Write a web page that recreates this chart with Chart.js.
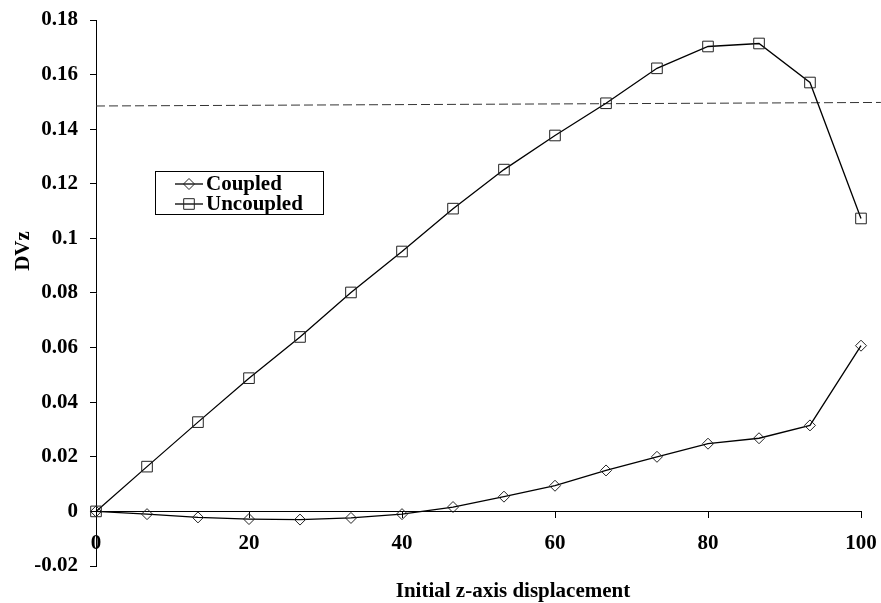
<!DOCTYPE html>
<html><head><meta charset="utf-8">
<script src="https://cdn.jsdelivr.net/npm/chart.js@4/dist/chart.umd.min.js"></script>
<style>html,body{margin:0;padding:0;background:#fff}#wrap{width:881px;height:603px;position:relative}</style>
</head><body><div id="wrap"><canvas id="c" width="881" height="603"></canvas></div>
<script>
// ---- data ----
const xValues = [0, 6.67, 13.33, 20, 26.67, 33.33, 40, 46.67, 53.33, 60, 66.67, 73.33, 80, 86.67, 93.33, 100];
const coupled = [0, -0.0010, -0.0022, -0.0028, -0.0030, -0.0024, -0.0010, 0.0016, 0.0054, 0.0094, 0.0150, 0.0200, 0.0248, 0.0268, 0.0315, 0.0607];
const uncoupled = [0, 0.0164, 0.0327, 0.0488, 0.0639, 0.0802, 0.0952, 0.1109, 0.1252, 0.1377, 0.1495, 0.1623, 0.1703, 0.1714, 0.1571, 0.1073];
const thresholdX = [0, 102.6];
const thresholdY = [0.1485, 0.1498];
const xTicks = [0, 20, 40, 60, 80, 100];
const yTicks = [-0.02, 0, 0.02, 0.04, 0.06, 0.08, 0.1, 0.12, 0.14, 0.16, 0.18];
const seriesNames = ['Coupled', 'Uncoupled'];
const xTitle = 'Initial z-axis displacement';
const yTitle = 'DVz';

const FAMILY = "'Liberation Serif', 'Times New Roman', serif";
const FONT = 'bold 21px ' + FAMILY;
Chart.defaults.font.family = FAMILY;
Chart.defaults.font.size = 21;
Chart.defaults.font.weight = 'bold';
Chart.defaults.color = '#000';

function pts(xs, ys) { return xs.map((x, i) => ({ x: x, y: ys[i] })); }

const decorPlugin = {
  id: 'decor',
  afterDraw(chart) {
    const ctx = chart.ctx;
    const ds = chart.data.datasets;
    ctx.save();
    // legend box
    ctx.strokeStyle = '#000';
    ctx.lineWidth = 1;
    ctx.strokeRect(155.5, 171.5, 168, 43);
    const rows = [190, 210];
    [0, 1].forEach(i => {
      const d = ds[i];
      const cy = rows[i] - 6;
      ctx.beginPath();
      ctx.strokeStyle = '#000';
      ctx.lineWidth = 1.3;
      ctx.moveTo(175, cy); ctx.lineTo(203, cy);
      ctx.stroke();
      ctx.lineWidth = 1;
      ctx.strokeStyle = d.pointBorderColor;
      ctx.fillStyle = 'rgba(0,0,0,0)';
      Chart.helpers.drawPoint(ctx, { pointStyle: d.pointStyle, radius: d.pointRadius, rotation: 0, borderWidth: 1 }, 189, cy);
      ctx.fillStyle = '#000';
      ctx.font = FONT;
      ctx.textAlign = 'left';
      ctx.textBaseline = 'alphabetic';
      ctx.fillText(d.label, 206, rows[i]);
    });
    // axis titles
    ctx.fillStyle = '#000';
    ctx.font = FONT;
    ctx.textAlign = 'center';
    ctx.textBaseline = 'alphabetic';
    ctx.fillText(xTitle, 513, 597);
    ctx.translate(29, 251);
    ctx.rotate(-Math.PI / 2);
    ctx.fillText(yTitle, 0, 0);
    ctx.restore();
  }
};

new Chart(document.getElementById('c'), {
  type: 'line',
  data: {
    datasets: [
      { label: seriesNames[0], data: pts(xValues, coupled), borderColor: '#000', borderWidth: 1.3,
        pointStyle: 'rectRot', pointRadius: 5.5, pointBorderColor: '#222', pointBackgroundColor: 'rgba(0,0,0,0)',
        pointBorderWidth: 1, tension: 0, fill: false, clip: false },
      { label: seriesNames[1], data: pts(xValues, uncoupled), borderColor: '#000', borderWidth: 1.3,
        pointStyle: 'rect', pointRadius: 7.5, pointBorderColor: '#222', pointBackgroundColor: 'rgba(0,0,0,0)',
        pointBorderWidth: 1, tension: 0, fill: false, clip: false },
      { label: 'threshold', data: pts(thresholdX, thresholdY), borderColor: '#333', borderWidth: 1,
        borderDash: [9, 4], pointRadius: 0, clip: false, fill: false }
    ]
  },
  options: {
    responsive: false,
    animation: false,
    events: [],
    layout: { padding: { left: 0, right: 20, top: 20, bottom: 37 } },
    plugins: { legend: { display: false }, tooltip: { enabled: false } },
    scales: {
      x: {
        type: 'linear', min: 0, max: 100, position: { y: 0 },
        afterBuildTicks: s => { s.ticks = xTicks.map(v => ({ value: v })); },
        afterFit: s => { s.paddingLeft = 0; s.paddingRight = 0; s.paddingTop = 0; s.paddingBottom = 0; },
        grid: { display: true, drawOnChartArea: false, drawTicks: true, tickLength: 6, color: '#000', lineWidth: 1 },
        border: { display: true, color: '#000', width: 1 },
        ticks: { color: '#000', padding: 14, maxRotation: 0, autoSkip: false, font: { size: 21, weight: 'bold' } }
      },
      y: {
        type: 'linear', min: -0.02, max: 0.18,
        afterBuildTicks: s => { s.ticks = yTicks.map(v => ({ value: v })); },
        afterFit: s => { s.width = 96; s.paddingTop = 0; s.paddingBottom = 0; s.paddingLeft = 0; s.paddingRight = 0; },
        grid: { display: true, drawOnChartArea: false, drawTicks: true, tickLength: 6, color: '#000', lineWidth: 1 },
        border: { display: true, color: '#000', width: 1 },
        ticks: { color: '#000', padding: 12, autoSkip: false, font: { size: 21, weight: 'bold' },
          callback: v => String(parseFloat(Number(v).toFixed(2))) }
      }
    }
  },
  plugins: [decorPlugin]
});
</script>
</body></html>
